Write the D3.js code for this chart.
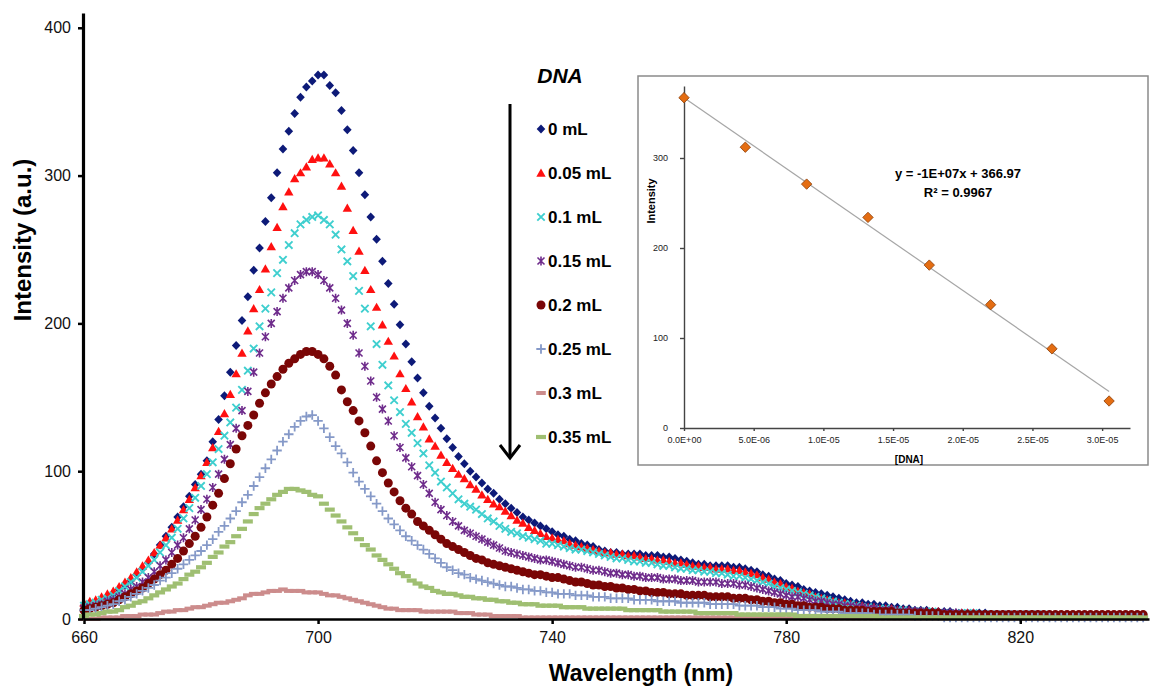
<!DOCTYPE html>
<html>
<head>
<meta charset="utf-8">
<script src="https://cdn.jsdelivr.net/npm/d3@7/dist/d3.min.js"></script>
<style>
  body { margin: 0; background: #fff; }
  svg { display: block; font-family: 'Liberation Sans', Arial, sans-serif; }
</style>
</head>
<body>
<div id="chart"></div>
<script>
// wavelength steps of the spectra (nm)
const wavelengths = d3.range(660, 842)

// emission intensity (a.u.) for each DNA volume, 660..841 nm
const dna000 = [
  9, 10, 11, 13, 15, 17, 20, 23, 26, 30,
  34, 38, 44, 50, 56, 62, 69, 76, 83, 91,
  98, 107, 120, 135, 151, 167, 185, 202, 218, 236,
  251, 269, 285, 302, 318, 330, 342, 353, 360, 364,
  368, 368, 361, 356, 344, 331, 317, 302, 287, 272,
  257, 242, 227, 213, 199, 186, 174, 163, 153, 144,
  136, 129, 122, 116, 110, 105, 100, 96, 92, 88,
  85, 81, 78, 75, 72, 69, 67, 65, 63, 61,
  59, 57, 56, 54, 53, 51, 50, 49, 47, 46,
  45, 45, 44, 44, 44, 44, 43, 43, 43, 42,
  42, 41, 40, 39, 38, 37, 37, 36, 36, 36,
  36, 35, 35, 34, 33, 32, 30, 29, 27, 26,
  24, 23, 22, 20, 19, 18, 17, 16, 15, 14,
  13, 12, 11, 11, 10, 10, 9, 9, 8, 8,
  7, 7, 6, 6, 6, 5, 5, 5, 5, 4,
  4, 4, 4, 4, 4, 3, 3, 3, 3, 3,
  3, 3, 3, 3, 3, 3, 2, 2, 2, 2,
  2, 2, 2, 2, 2, 2, 2, 2, 2, 2,
  2, 2
]
const dna005 = [
  11, 12, 13, 15, 17, 19, 22, 25, 28, 32,
  36, 40, 45, 50, 55, 61, 67, 74, 81, 89,
  97, 106, 116, 127, 139, 152, 166, 180, 195, 210,
  223, 237, 252, 265, 279, 289, 298, 302, 306, 311,
  312, 312, 308, 302, 293, 278, 263, 249, 236, 223,
  211, 199, 188, 178, 166, 156, 147, 137, 130, 122,
  117, 111, 106, 102, 98, 95, 91, 88, 84, 81,
  78, 76, 73, 70, 67, 65, 62, 60, 58, 56,
  55, 54, 53, 51, 50, 49, 48, 47, 46, 45,
  45, 44, 44, 43, 43, 42, 41, 41, 40, 40,
  39, 38, 38, 37, 36, 36, 35, 35, 34, 34,
  34, 33, 33, 32, 31, 30, 28, 27, 25, 24,
  22, 21, 19, 18, 17, 15, 14, 13, 12, 11,
  11, 10, 9, 9, 8, 8, 7, 7, 7, 6,
  6, 6, 5, 5, 5, 5, 5, 4, 4, 4,
  4, 4, 4, 3, 3, 3, 3, 3, 3, 3,
  3, 3, 3, 3, 2, 2, 2, 2, 2, 2,
  2, 2, 2, 2, 2, 2, 2, 2, 2, 2,
  2, 2
]
const dna010 = [
  9, 10, 11, 13, 14, 16, 19, 22, 25, 28,
  32, 36, 40, 45, 50, 55, 61, 68, 75, 82,
  90, 98, 106, 115, 124, 133, 143, 155, 168, 183,
  198, 210, 221, 234, 243, 253, 261, 267, 270, 272,
  273, 270, 267, 260, 250, 242, 232, 222, 210, 198,
  186, 172, 158, 148, 140, 132, 126, 119, 112, 104,
  99, 93, 89, 85, 81, 78, 76, 74, 71, 68,
  66, 63, 61, 59, 58, 56, 55, 54, 53, 51,
  51, 50, 49, 48, 47, 47, 46, 45, 44, 43,
  42, 41, 41, 40, 39, 39, 38, 38, 37, 36,
  36, 35, 34, 34, 33, 33, 32, 32, 31, 31,
  30, 29, 29, 28, 27, 26, 25, 24, 22, 21,
  20, 19, 18, 17, 16, 15, 14, 13, 12, 11,
  10, 10, 9, 8, 8, 7, 7, 7, 6, 6,
  6, 5, 5, 5, 5, 5, 4, 4, 4, 4,
  4, 4, 4, 3, 3, 3, 3, 3, 3, 3,
  3, 3, 3, 3, 3, 2, 2, 2, 2, 2,
  2, 2, 2, 2, 2, 2, 2, 2, 2, 2,
  2, 2
]
const dna015 = [
  7, 8, 9, 10, 12, 13, 15, 17, 20, 22,
  25, 28, 32, 36, 40, 45, 50, 55, 61, 67,
  74, 81, 89, 98, 108, 118, 129, 141, 154, 167,
  180, 191, 200, 208, 217, 224, 229, 233, 235, 235,
  233, 229, 224, 217, 209, 200, 192, 180, 171, 161,
  150, 142, 134, 124, 116, 109, 103, 97, 91, 85,
  79, 74, 70, 66, 63, 60, 58, 56, 54, 52,
  50, 48, 46, 45, 44, 43, 42, 41, 40, 40,
  39, 38, 37, 36, 35, 35, 34, 33, 33, 32,
  31, 31, 30, 30, 29, 29, 28, 28, 28, 27,
  27, 27, 26, 26, 26, 25, 25, 25, 25, 24,
  24, 24, 23, 23, 22, 21, 20, 19, 18, 17,
  16, 15, 15, 14, 13, 12, 12, 11, 10, 10,
  9, 9, 8, 8, 7, 7, 6, 6, 6, 5,
  5, 5, 5, 5, 4, 4, 4, 4, 4, 4,
  3, 3, 3, 3, 3, 3, 3, 3, 3, 3,
  3, 3, 3, 3, 2, 2, 2, 2, 2, 2,
  2, 2, 2, 2, 2, 2, 2, 2, 2, 2,
  2, 2
]
const dna020 = [
  6, 7, 8, 9, 10, 11, 13, 15, 17, 19,
  21, 24, 27, 30, 33, 37, 41, 46, 51, 56,
  62, 69, 77, 85, 95, 105, 115, 124, 131, 138,
  146, 153, 159, 164, 169, 173, 176, 179, 181, 181,
  179, 176, 171, 165, 155, 147, 141, 134, 126, 117,
  107, 99, 92, 86, 80, 75, 71, 66, 63, 60,
  57, 54, 51, 49, 47, 45, 43, 41, 40, 38,
  37, 36, 35, 34, 33, 32, 31, 30, 30, 29,
  28, 28, 27, 26, 25, 25, 24, 23, 23, 22,
  22, 21, 21, 20, 20, 19, 19, 18, 18, 18,
  17, 17, 17, 16, 16, 16, 16, 15, 15, 15,
  15, 14, 14, 14, 13, 13, 12, 12, 11, 11,
  10, 10, 9, 9, 8, 8, 8, 7, 7, 7,
  6, 6, 6, 6, 5, 5, 5, 5, 5, 4,
  4, 4, 4, 4, 4, 4, 4, 3, 3, 3,
  3, 3, 3, 3, 3, 3, 3, 3, 3, 3,
  3, 3, 3, 3, 3, 3, 3, 3, 3, 3,
  3, 3, 3, 3, 3, 3, 3, 3, 3, 3,
  3, 3
]
const dna025 = [
  6, 6, 7, 8, 9, 10, 12, 13, 15, 17,
  19, 21, 23, 26, 28, 31, 34, 37, 40, 43,
  46, 50, 54, 59, 63, 68, 73, 79, 84, 90,
  96, 102, 108, 114, 120, 125, 130, 134, 137, 138,
  134, 129, 123, 117, 112, 106, 99, 93, 88, 83,
  78, 73, 68, 64, 60, 56, 53, 50, 47, 44,
  41, 38, 35, 33, 31, 30, 28, 27, 26, 25,
  24, 23, 22, 22, 21, 20, 20, 19, 19, 18,
  18, 17, 17, 17, 16, 16, 16, 15, 15, 15,
  14, 14, 14, 14, 13, 13, 13, 13, 12, 12,
  12, 12, 11, 11, 11, 11, 11, 10, 10, 10,
  10, 10, 9, 9, 9, 9, 8, 8, 8, 7,
  7, 7, 6, 6, 6, 6, 5, 5, 5, 5,
  4, 4, 4, 4, 4, 3, 3, 3, 3, 3,
  3, 3, 2, 2, 2, 2, 2, 1, 1, 1,
  1, 1, 1, 1, 1, 1, 1, 1, 1, 1,
  1, 1, 1, 1, 1, 1, 1, 1, 1, 1,
  1, 1, 1, 1, 1, 1, 1, 1, 1, 1,
  1, 1
]
const dna030 = [
  0, 0, 0, 1, 1, 1, 1, 2, 2, 2,
  3, 3, 3, 4, 5, 5, 6, 6, 7, 8,
  8, 9, 10, 11, 11, 12, 13, 14, 16, 17,
  17, 18, 19, 19, 20, 19, 19, 19, 18, 18,
  18, 17, 16, 16, 15, 14, 13, 12, 11, 10,
  9, 8, 7, 7, 6, 6, 6, 6, 5, 5,
  5, 5, 5, 5, 4, 4, 4, 3, 3, 3,
  2, 2, 2, 2, 2, 1, 1, 1, 1, 1,
  1, 1, 1, 1, 1, 1, 1, 1, 1, 1,
  1, 1, 1, 1, 1, 1, 1, 1, 1, 1,
  1, 1, 1, 1, 1, 1, 1, 1, 1, 1,
  1, 1, 1, 1, 1, 1, 1, 1, 1, 1,
  0.5, 0.5, 0.5, 0.5, 0.5, 0.5, 0.5, 0.5, 0.5, 0.5,
  0.5, 0.5, 0.5, 0.5, 0.5, 0.5, 0.5, 0.5, 0.5, 0.5,
  0.5, 0.5, 0.5, 0.5, 0.5, 0.5, 0.5, 0.5, 0.5, 0.5,
  0.5, 0.5, 0.5, 0.5, 0.5, 0.5, 0.5, 0.5, 0.5, 0.5,
  0.5, 0.5, 0.5, 0.5, 0.5, 0.5, 0.5, 0.5, 0.5, 0.5,
  0.5, 0.5, 0.5, 0.5, 0.5, 0.5, 0.5, 0.5, 0.5, 0.5,
  0.5, 0.5
]
const dna035 = [
  2, 3, 3, 4, 5, 5, 6, 8, 9, 11,
  12, 14, 16, 18, 20, 22, 24, 27, 30, 32,
  35, 38, 42, 45, 49, 52, 56, 61, 66, 71,
  75, 78, 81, 84, 86, 88, 88, 87, 86, 84,
  83, 78, 74, 70, 66, 62, 58, 54, 50, 47,
  43, 40, 37, 34, 31, 29, 26, 24, 22, 21,
  19, 18, 17, 17, 16, 15, 15, 14, 14, 13,
  13, 12, 12, 11, 11, 10, 10, 10, 9, 9,
  9, 9, 8, 8, 8, 8, 7, 7, 7, 7,
  7, 7, 7, 6, 6, 6, 6, 6, 6, 5,
  5, 5, 5, 5, 5, 4, 4, 4, 4, 4,
  4, 4, 3, 3, 3, 3, 3, 3, 3, 3,
  3, 3, 2, 2, 2, 2, 2, 2, 2, 2,
  2, 2, 2, 2, 2, 2, 1, 1, 1, 1,
  1, 1, 1, 1, 1, 1, 1, 1, 1, 1,
  1, 1, 1, 1, 1, 1, 1, 1, 1, 1,
  1, 1, 1, 1, 1, 1, 1, 1, 1, 1,
  1, 1, 1, 1, 1, 1, 1, 1, 1, 1,
  1, 1
]

const seriesLabels = ['0 mL', '0.05 mL', '0.1 mL', '0.15 mL', '0.2 mL', '0.25 mL', '0.3 mL', '0.35 mL']
const seriesValues = [dna000, dna005, dna010, dna015, dna020, dna025, dna030, dna035]

const xTicks = [660, 700, 740, 780, 820]
const yTicks = [0, 100, 200, 300, 400]

// inset: peak intensity vs [DNA]
const insetConc = [0, 4.4e-6, 8.8e-6, 1.32e-5, 1.76e-5, 2.2e-5, 2.64e-5, 3.05e-5]
const insetIntensity = [367, 312, 271, 234, 181, 137, 88, 30]
const insetXTicks = [0, 5e-6, 1e-5, 1.5e-5, 2e-5, 2.5e-5, 3e-5]
const insetXLabels = ['0.0E+00', '5.0E-06', '1.0E-05', '1.5E-05', '2.0E-05', '2.5E-05', '3.0E-05']
const insetYTicks = [0, 100, 200, 300]

// marker look per series
const markerStyles = [
  { shape: 'diamond', color: '#0d1a78' },
  { shape: 'triangle', color: '#ff1010' },
  { shape: 'x', color: '#3fcfcf' },
  { shape: 'star', color: '#6f2c8c' },
  { shape: 'circle', color: '#7a0606' },
  { shape: 'plus', color: '#8599c8' },
  { shape: 'dash', color: '#cc8c8c' },
  { shape: 'bar', color: '#9fbf72' }
]

const markerPaths = {
  diamond: 'M0,-4.5L4.3,0L0,4.5L-4.3,0Z',
  triangle: 'M0,-4.5L4.7,3.7L-4.7,3.7Z',
  x: 'M-3.7,-3.7L3.7,3.7M-3.7,3.7L3.7,-3.7',
  star: 'M-3.5,-3.5L3.5,3.5M-3.5,3.5L3.5,-3.5M0,-4.5L0,4.5',
  circle: 'M-4.5,0a4.5,4.5 0 1,0 9,0a4.5,4.5 0 1,0 -9,0Z',
  plus: 'M-4.7,0H4.7M0,-4.7V4.7',
  dash: 'M-4.8,-2H4.8V2H-4.8Z',
  bar: 'M-5,-2.1H5V2.1H-5Z'
}
const strokeShapes = { x: 1.9, star: 1.6, plus: 1.8 }

function styleMarker(sel, style) {
  const sw = strokeShapes[style.shape]
  sel
    .attr('d', markerPaths[style.shape])
    .attr('fill', sw ? 'none' : style.color)
    .attr('stroke', sw ? style.color : 'none')
    .attr('stroke-width', sw || 0)
}

const width = 1152
const height = 687

const svg = d3
  .select('#chart')
  .append('svg')
  .attr('width', width)
  .attr('height', height)

svg.append('rect').attr('width', width).attr('height', height).attr('fill', '#fff')

const xPositionScale = d3.scaleLinear().domain([660, 842]).range([84, 1149])
const yPositionScale = d3.scaleLinear().domain([0, 410]).range([619, 13])

// spectra, first series underneath
seriesValues.forEach((values, i) => {
  const style = markerStyles[i]
  svg
    .append('g')
    .attr('class', 'series')
    .selectAll('path')
    .data(values)
    .enter()
    .append('path')
    .call(styleMarker, style)
    .attr('transform', (d, j) => {
      return 'translate(' + xPositionScale(wavelengths[j]) + ',' + yPositionScale(d) + ')'
    })
})

// axes
const xAxis = d3
  .axisBottom(xPositionScale)
  .tickValues(xTicks)
  .tickSizeInner(5)
  .tickSizeOuter(0)
  .tickPadding(8)

const yAxis = d3
  .axisLeft(yPositionScale)
  .tickValues(yTicks)
  .tickSizeInner(5)
  .tickSizeOuter(0)
  .tickPadding(7)

svg
  .append('g')
  .attr('class', 'axis x-axis')
  .attr('transform', 'translate(0,619)')
  .call(xAxis)

svg
  .append('g')
  .attr('class', 'axis y-axis')
  .attr('transform', 'translate(83,0)')
  .call(yAxis)

svg.selectAll('.axis text').attr('font-size', 16).attr('fill', '#111').attr('font-family', null)
svg.selectAll('.axis .tick line').attr('stroke', '#000').attr('stroke-width', 2.5)
svg.select('.x-axis .domain').attr('stroke', '#000').attr('stroke-width', 2.5)
svg.select('.y-axis .domain').attr('stroke', '#000').attr('stroke-width', 3.2)

svg
  .append('text')
  .text('Wavelength (nm)')
  .attr('x', 641)
  .attr('y', 681)
  .attr('text-anchor', 'middle')
  .attr('font-size', 23)
  .attr('font-weight', 'bold')

svg
  .append('text')
  .text('Intensity (a.u.)')
  .attr('transform', 'translate(31,240) rotate(-90)')
  .attr('text-anchor', 'middle')
  .attr('font-size', 24)
  .attr('font-weight', 'bold')

// legend with the titration arrow
svg
  .append('text')
  .text('DNA')
  .attr('x', 560)
  .attr('y', 83)
  .attr('text-anchor', 'middle')
  .attr('font-size', 21)
  .attr('font-weight', 'bold')
  .attr('font-style', 'italic')

svg
  .append('line')
  .attr('x1', 510)
  .attr('x2', 510)
  .attr('y1', 104)
  .attr('y2', 457)
  .attr('stroke', '#000')
  .attr('stroke-width', 3)

svg
  .append('path')
  .attr('d', 'M500,445L510,458L520,445')
  .attr('fill', 'none')
  .attr('stroke', '#000')
  .attr('stroke-width', 3)

const legend = svg
  .append('g')
  .attr('class', 'legend')
  .selectAll('g')
  .data(seriesLabels)
  .enter()
  .append('g')
  .attr('transform', (d, i) => 'translate(541,' + (129 + i * 44) + ')')

legend
  .append('path')
  .each(function (d, i) {
    d3.select(this).call(styleMarker, markerStyles[i])
  })

legend
  .append('text')
  .text(d => d)
  .attr('x', 7)
  .attr('y', 6)
  .attr('font-size', 17)
  .attr('font-weight', 'bold')

// inset: linear fit of peak intensity
const inset = svg.append('g').attr('class', 'inset')

inset
  .append('rect')
  .attr('x', 638)
  .attr('y', 76)
  .attr('width', 510)
  .attr('height', 389)
  .attr('fill', '#fff')
  .attr('stroke', '#8a8a8a')
  .attr('stroke-width', 1.5)

const insetX = d3.scaleLinear().domain([0, 3.2e-5]).range([684, 1130])
const insetY = d3.scaleLinear().domain([0, 380]).range([428, 86])

const insetXAxis = d3
  .axisBottom(insetX)
  .tickValues(insetXTicks)
  .tickFormat((d, i) => insetXLabels[i])
  .tickSizeInner(3)
  .tickSizeOuter(0)
  .tickPadding(6)

const insetYAxis = d3
  .axisLeft(insetY)
  .tickValues(insetYTicks)
  .tickSizeInner(4)
  .tickSizeOuter(0)
  .tickPadding(12)

inset
  .append('g')
  .attr('class', 'inset-axis ix')
  .attr('transform', 'translate(0,428)')
  .call(insetXAxis)

inset
  .append('g')
  .attr('class', 'inset-axis iy')
  .attr('transform', 'translate(684,0)')
  .call(insetYAxis)

inset.selectAll('.inset-axis text').attr('font-size', 9).attr('fill', '#222').attr('font-family', null)
inset.selectAll('.inset-axis .domain, .inset-axis .tick line').attr('stroke', '#444').attr('stroke-width', 1.4)

// least squares trendline through the points
const meanX = d3.mean(insetConc)
const meanY = d3.mean(insetIntensity)
const slope =
  d3.sum(insetConc, (x, i) => (x - meanX) * (insetIntensity[i] - meanY)) /
  d3.sum(insetConc, x => (x - meanX) * (x - meanX))
const intercept = meanY - slope * meanX
const fitEnds = [0, d3.max(insetConc)]

inset
  .append('path')
  .datum(fitEnds)
  .attr('d', d3.line().x(d => insetX(d)).y(d => insetY(intercept + slope * d)))
  .attr('stroke', '#a6a6a6')
  .attr('stroke-width', 1.2)
  .attr('fill', 'none')

inset
  .selectAll('.pt')
  .data(insetConc)
  .enter()
  .append('path')
  .attr('class', 'pt')
  .attr('d', 'M0,-5.2L5.2,0L0,5.2L-5.2,0Z')
  .attr('fill', '#e46d12')
  .attr('stroke', '#8a3c06')
  .attr('stroke-width', 0.8)
  .attr('transform', (d, i) => 'translate(' + insetX(d) + ',' + insetY(insetIntensity[i]) + ')')

inset
  .append('text')
  .text('y = -1E+07x + 366.97')
  .attr('x', 958)
  .attr('y', 178)
  .attr('text-anchor', 'middle')
  .attr('font-size', 13)
  .attr('font-weight', 'bold')

inset
  .append('text')
  .text('R² = 0.9967')
  .attr('x', 958)
  .attr('y', 197)
  .attr('text-anchor', 'middle')
  .attr('font-size', 13)
  .attr('font-weight', 'bold')

inset
  .append('text')
  .text('[DNA]')
  .attr('x', 909)
  .attr('y', 463)
  .attr('text-anchor', 'middle')
  .attr('font-size', 10)
  .attr('font-weight', 'bold')

inset
  .append('text')
  .text('Intensity')
  .attr('transform', 'translate(655,201) rotate(-90)')
  .attr('text-anchor', 'middle')
  .attr('font-size', 11)
  .attr('font-weight', 'bold')
</script>
</body>
</html>
